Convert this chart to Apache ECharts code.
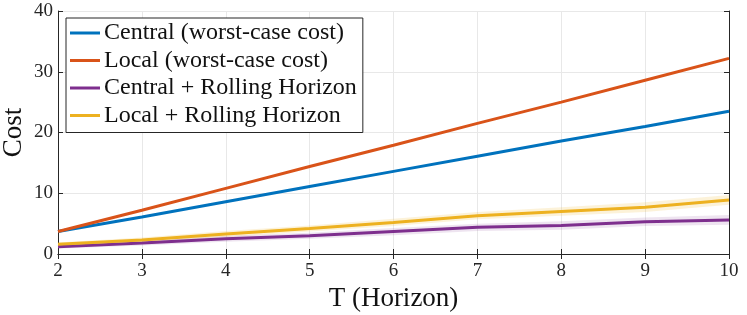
<!DOCTYPE html>
<html><head><meta charset="utf-8">
<script src="https://cdn.jsdelivr.net/npm/echarts@6/dist/echarts.min.js"></script>
<style>html,body{margin:0;padding:0;background:#fff}#c{width:747px;height:315px}</style>
</head><body><div id="c"></div>
<script>
const horizons = [2, 3, 4, 5, 6, 7, 8, 9, 10];
const centralWorst = [3.7, 6.1, 8.6, 11.1, 13.6, 16.1, 18.6, 21.0, 23.5];
const localWorst = [3.7, 7.2, 10.8, 14.4, 17.9, 21.5, 25.0, 28.6, 32.2];
const centralRH = [1.2, 1.8, 2.5, 3.0, 3.7, 4.4, 4.7, 5.3, 5.6];
const centralRHLow = [0.9, 1.4, 2.0, 2.5, 3.1, 3.8, 4.0, 4.6, 4.8];
const centralRHHigh = [1.5, 2.2, 3.0, 3.5, 4.3, 5.0, 5.4, 6.0, 6.4];
const localRH = [1.6, 2.3, 3.3, 4.2, 5.2, 6.3, 7.0, 7.7, 8.9];
const localRHLow = [1.3, 1.9, 2.8, 3.7, 4.6, 5.7, 6.3, 6.9, 8.1];
const localRHHigh = [1.9, 2.7, 3.8, 4.7, 5.8, 6.9, 7.7, 8.5, 9.7];
const xTicks = [2, 3, 4, 5, 6, 7, 8, 9, 10];
const yTicks = [0, 10, 20, 30, 40];
const labels = ['Central (worst-case cost)', 'Local (worst-case cost)', 'Central + Rolling Horizon', 'Local + Rolling Horizon'];

const font = 'Liberation Serif';
const pair = (xs, ys) => xs.map((x, i) => [x, ys[i]]);

const axisCommon = {
  axisLine: { show: true, lineStyle: { color: '#262626', width: 1 } },
  axisTick: { show: true, inside: true, length: 5, lineStyle: { color: '#262626' } },
};

function bandSeries(lo, hi, color) {
  return {
    type: 'custom', silent: true, z: 1,
    data: horizons.map((x, i) => [x, lo[i], hi[i]]),
    renderItem: (params, api) => {
      if (params.dataIndex !== 0) return null;
      const top = horizons.map((x, i) => api.coord([x, hi[i]]));
      const bot = horizons.map((x, i) => api.coord([x, lo[i]])).reverse();
      return { type: 'polygon', shape: { points: top.concat(bot) }, style: { fill: color } };
    }
  };
}

const chart = echarts.init(document.getElementById('c'));
chart.setOption({
  animation: false,
  grid: { left: 58, right: 18, top: 11, bottom: 61, containLabel: false, outerBoundsMode: 'none' },
  legend: {
    show: true, orient: 'vertical', left: 66, top: 18,
    data: labels,
    itemWidth: 30, itemHeight: 3, itemGap: 3.5,
    icon: 'rect',
    backgroundColor: '#fff', borderColor: '#262626', borderWidth: 1,
    padding: [3, 6, 5, 4],
    textStyle: { fontFamily: font, fontSize: 24, lineHeight: 24, color: '#111', padding: [0, 0, 0, -1] }
  },
  xAxis: [{
    type: 'value', min: 2, max: 10, interval: 1,
    name: 'T (Horizon)', nameLocation: 'middle', nameGap: 31, nameMoveOverlap: false,
    nameTextStyle: { fontFamily: font, fontSize: 27, color: '#111' },
    axisLabel: { fontFamily: font, fontSize: 19, color: '#262626', margin: 8 },
    splitLine: { show: true, lineStyle: { color: '#e8e8e8' } },
    ...axisCommon
  }, {
    type: 'value', min: 2, max: 10, interval: 1, position: 'top',
    axisLabel: { show: false }, splitLine: { show: false },
    ...axisCommon
  }],
  yAxis: [{
    type: 'value', min: 0, max: 40, interval: 10,
    name: 'Cost', nameLocation: 'middle', nameGap: 31, nameMoveOverlap: false,
    nameTextStyle: { fontFamily: font, fontSize: 27, color: '#111' },
    axisLabel: { fontFamily: font, fontSize: 19, color: '#262626', margin: 5 },
    splitLine: { show: true, lineStyle: { color: '#e8e8e8' } },
    ...axisCommon
  }, {
    type: 'value', min: 0, max: 40, interval: 10, position: 'right',
    axisLabel: { show: false }, splitLine: { show: false },
    ...axisCommon
  }],
  series: [
    bandSeries(centralRHLow, centralRHHigh, 'rgba(126,47,142,0.13)'),
    bandSeries(localRHLow, localRHHigh, 'rgba(237,177,32,0.17)'),
    { type: 'line', name: labels[0], data: pair(horizons, centralWorst), symbol: 'none', lineStyle: { color: '#0072BD', width: 3 }, itemStyle: { color: '#0072BD' }, z: 3 },
    { type: 'line', name: labels[1], data: pair(horizons, localWorst), symbol: 'none', lineStyle: { color: '#D95319', width: 3 }, itemStyle: { color: '#D95319' }, z: 3 },
    { type: 'line', name: labels[2], data: pair(horizons, centralRH), symbol: 'none', lineStyle: { color: '#7E2F8E', width: 3 }, itemStyle: { color: '#7E2F8E' }, z: 3 },
    { type: 'line', name: labels[3], data: pair(horizons, localRH), symbol: 'none', lineStyle: { color: '#EDB120', width: 3 }, itemStyle: { color: '#EDB120' }, z: 3 }
  ]
});
</script></body></html>
